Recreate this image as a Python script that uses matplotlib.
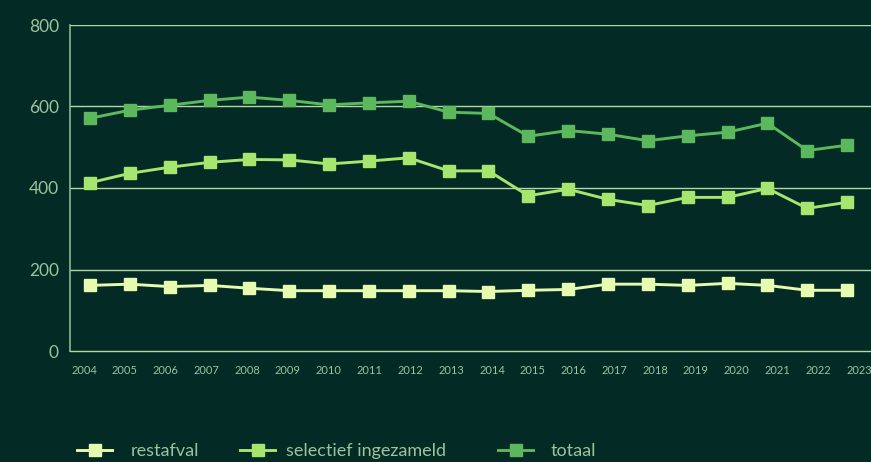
import numpy as np
import matplotlib
matplotlib.use('Agg')
import matplotlib.pyplot as plt

plt.rcParams['font.family'] = ['Lato', 'DejaVu Sans']

years = list(range(2004, 2024))
restafval = [161, 164, 158, 161, 154, 148, 148, 148, 148, 148,
             146, 149, 151, 164, 164, 161, 166, 161, 149, 149]
selectief = [413, 436, 451, 463, 470, 469, 459, 466, 474, 442,
             442, 381, 397, 372, 357, 377, 377, 399, 350, 365]
totaal = [571, 591, 603, 615, 623, 615, 604, 609, 613, 586,
          583, 527, 541, 532, 516, 528, 537, 559, 492, 505]
yticks = [0, 200, 400, 600, 800]

bg = '#032a24'
txt = '#9cc39c'
grid = '#b3d9a3'
c_rest = '#e6fbb0'
c_sel = '#a6e66e'
c_tot = '#5cb85c'

W, H = 871, 462
fig = plt.figure(figsize=(W / 100, H / 100), dpi=100)
fig.patch.set_facecolor(bg)

ax = fig.add_axes([70 / W, (H - 351) / H, 1 - 70 / W, (351 - 25) / H])
ax.set_facecolor(bg)

# point spacing and label spacing differ slightly in the original
ax.set_xlim(2004 + (70 - 90) / 39.85, 2004 + (871 - 90) / 39.85)
ax.set_ylim(0, 800)

for y in yticks[1:]:
    ax.axhline(y, color=grid, lw=1.0, zorder=1)

kw = dict(marker='s', markersize=8.5, lw=2.1, zorder=3)
ax.plot(years, restafval, color=c_rest, label='restafval', **kw)
ax.plot(years, selectief, color=c_sel, label='selectief ingezameld', **kw)
ax.plot(years, totaal, color=c_tot, label='totaal', **kw)

for s in ['top', 'right']:
    ax.spines[s].set_visible(False)
ax.spines['left'].set_color('#8cb88c')
ax.spines['bottom'].set_color(grid)
ax.spines['left'].set_linewidth(1.2)
ax.spines['bottom'].set_linewidth(1.0)

ax.set_yticks(yticks)
ax.tick_params(axis='y', length=0, pad=8, labelsize=12.5, labelcolor=txt)
ax.set_xticks([])

ax2 = ax.twiny()
ax2.set_xlim(2004 + (70 - 84) / 40.8, 2004 + (871 - 84) / 40.8)
ax2.xaxis.set_ticks_position('bottom')
ax2.set_xticks(years)
ax2.set_xticklabels([str(y) for y in years])
ax2.tick_params(axis='x', length=0, pad=10, labelsize=8, labelcolor=txt)
for s in ax2.spines.values():
    s.set_visible(False)

# legend items are spaced unevenly in the original, so one legend each
handles, labels = ax.get_legend_handles_labels()
for h, l, x0, tp in zip(handles, labels, [77, 240, 498], [1.05, 0.6, 0.95]):
    leg = fig.legend([h], [l], loc='center left',
                     bbox_to_anchor=(x0 / W, (H - 451) / H), frameon=False,
                     fontsize=13, handlelength=1.95, handletextpad=tp,
                     borderpad=0, borderaxespad=0)
    leg.get_texts()[0].set_color(txt)

fig.savefig('out.png', dpi=100, facecolor=bg)
